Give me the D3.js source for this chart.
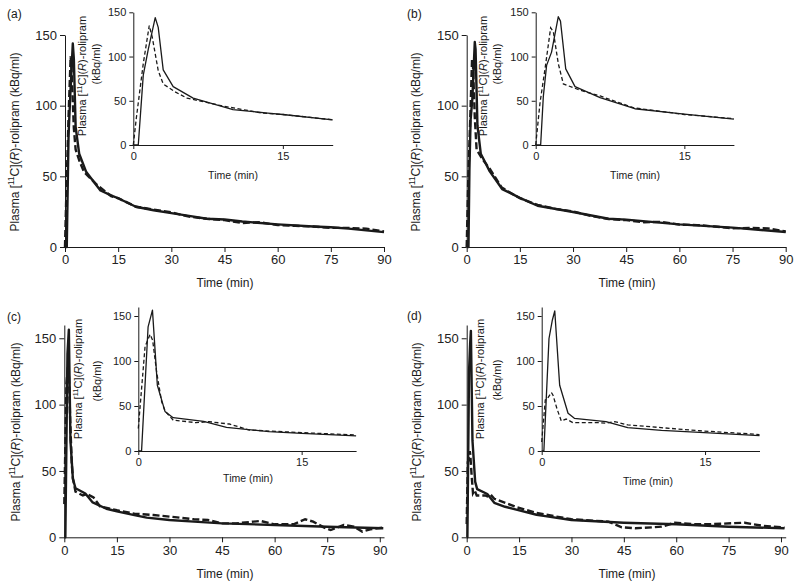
<!DOCTYPE html>
<html><head><meta charset="utf-8">
<script src="https://cdn.jsdelivr.net/npm/d3@7"></script>
<style>
body{margin:0;background:#fff}
svg{display:block;font-family:"Liberation Sans",Arial,Helvetica,sans-serif}
</style>
</head><body><svg id="chart" width="800" height="585"></svg>
<script>
// ---------- data ----------
const panelLabels = ["(a)", "(b)", "(c)", "(d)"];
const xTicksMain = [0, 15, 30, 45, 60, 75, 90];
const xTicksInset = [0, 15];
const yTicks = [0, 50, 100, 150];
const xTitle = "Time (min)";

// [time (min), plasma activity (kBq/ml)]
const solidA = [[0,0],[0.5,0],[1.0,79],[1.5,108],[2.2,144],[2.5,133],[3.0,85],[4.0,66],[6.0,53],[10,40],[13.5,36],[15,34.5],[20,28.5],[25,26],[30,24],[35,22],[40,20],[45,19.5],[50,18],[60,16],[70,14.5],[75,14],[80,13],[90,10.5]];
const dashedA = [[0,0],[0.3,30],[1.0,92],[1.6,135],[1.9,122],[2.5,84],[3.0,69],[4.2,60],[5.4,53],[9,44],[13,36],[15,34.5],[20,28.5],[25,26.5],[30,24.5],[35,21.5],[40,20],[45,19],[50,17],[55,17.5],[60,15.5],[65,15],[70,14.5],[75,13.5],[80,13.5],[85,13],[90,11]];
const solidB = [[0,0],[0.5,0],[0.77,55],[1.1,90],[1.6,105],[2.28,145],[2.5,140],[3.03,86],[3.97,66],[6.5,53.5],[10,41],[15,34.8],[20,29.2],[30,24.8],[40,20],[45,19.4],[60,16],[75,13.7],[90,10.6]];
const dashedB = [[0,0],[0.44,48],[0.94,86],[1.51,132.5],[1.78,128],[2.28,92],[2.79,69],[4.47,62],[6.5,55.4],[9.9,42],[15,34.5],[20,29.8],[25,27],[30,25.2],[35,22],[40,19.8],[45,19],[50,17.5],[55,17.8],[60,15.8],[65,15.5],[70,14.5],[75,13.2],[80,13.5],[85,13.2],[90,11]];
const solidC = [[0,0],[0.3,0],[0.9,138],[1.3,156.5],[1.75,73],[2.45,44],[3.2,37],[6,33],[8.1,26.3],[12,21.5],[15,19.6],[20,16.7],[23.5,14.8],[30,13],[37,11.8],[45,10.5],[60,9.3],[75,8],[91,6.8]];
const dashedC = [[0,25],[0.62,116],[1.08,129.6],[1.32,123],[1.68,88],[2.14,55],[2.46,44.4],[3.2,34.4],[5.3,31.5],[6.5,32.6],[8.35,30],[10.2,23.3],[15,20.4],[20,17.8],[25.4,16.8],[30,15.6],[37,13.6],[41,13],[45,10.5],[49,10.5],[54,11.8],[56,12.3],[60,9.8],[65.4,9.8],[68.7,13.6],[71,11.8],[74,7.5],[76,5.5],[79.7,9.3],[82.6,8],[85,4.3],[87.3,6],[91,7.3]];
const solidD = [[0,0],[0.2,0],[0.67,125],[0.98,145.6],[1.2,155.6],[1.65,73],[2.42,42],[3.0,36.3],[5.9,32.6],[7.9,26],[11,23],[14.5,20.7],[20,17],[22.5,16],[30,13],[45,11],[60,9.8],[75,8],[91,6.8]];
const dashedD = [[0,10],[0.33,56.7],[0.54,58.5],[0.89,65],[1.04,62],[1.4,47],[1.8,33.3],[2.25,35.5],[2.87,31.5],[5.3,31.5],[5.9,30.8],[6.7,32.6],[7.9,29],[14.5,22.5],[20,18.3],[30,13.6],[40.6,11.8],[44.4,7.5],[48.2,6.8],[53,7.5],[55.8,8],[59.6,11],[65.3,9.8],[71,10],[79.6,11],[84.4,8.8],[91,7.3]];

const solidSeries = [solidA, solidB, solidC, solidD];
const dashedSeries = [dashedA, dashedB, dashedC, dashedD];
const yMaxes = [150, 150, 160, 160];
const xMaxesMain = [90, 90, 91.2, 91.35];
const insetXMax = 20;

// ---------- layout ----------
const layout = [
  {main:{x:[65,384], y:[247,35]}, inset:{x:[133.3,332.7], y:[145,12.3]},
   label:[7,18], mYT:[19,142], iYT1:[86,76], iYT2:[100,64], iXT:[233,179], mXT:[225,286.5]},
  {main:{x:[466.7,785.7], y:[247,35]}, inset:{x:[535.7,733.9], y:[145,12.3]},
   label:[407,18], mYT:[420,142], iYT1:[487,76], iYT2:[501,64], iXT:[635,179], mXT:[627,286.5]},
  {main:{x:[64.3,384], y:[537.3,325]}, inset:{x:[138.3,356.1], y:[451,307]},
   label:[7,321], mYT:[20,432], iYT1:[82,379], iYT2:[101,381], iXT:[248,482], mXT:[225,577.5]},
  {main:{x:[466.7,785.7], y:[537.3,325]}, inset:{x:[541.7,759.5], y:[451,307]},
   label:[407,320], mYT:[421,432], iYT1:[484,379], iYT2:[501,380], iXT:[648,485], mXT:[627,577.5]}
];

const ink = "#1a1a1a";
const svg = d3.select("#chart");

function yTitle(g, x, y, size, withUnit) {
  const t = g.append("text")
    .attr("transform", `translate(${x},${y}) rotate(-90)`)
    .attr("text-anchor", "middle")
    .attr("font-size", size).attr("fill", ink);
  t.append("tspan").text("Plasma [");
  t.append("tspan").attr("font-size", size*0.68).attr("dy", -size*0.38).text("11");
  t.append("tspan").attr("dy", size*0.38).text("C](");
  t.append("tspan").attr("font-style", "italic").text("R");
  t.append("tspan").text(")-rolipram" + (withUnit ? " (kBq/ml)" : ""));
}

function drawAxes(g, xs, ys, xt, yt, fs, tick) {
  const gx = g.append("g").attr("transform", `translate(0,${ys.range()[0]})`)
    .call(d3.axisBottom(xs).tickValues(xt).tickSize(tick).tickSizeOuter(0).tickPadding(3).tickFormat(d3.format("d")));
  const gy = g.append("g").attr("transform", `translate(${xs.range()[0]},0)`)
    .call(d3.axisLeft(ys).tickValues(yt).tickSize(tick).tickSizeOuter(0).tickPadding(3).tickFormat(d3.format("d")));
  [gx, gy].forEach(a => {
    a.select(".domain").attr("stroke", ink).attr("stroke-width", 1);
    a.selectAll(".tick line").attr("stroke", ink).attr("stroke-width", 1);
    a.selectAll(".tick text").attr("font-size", fs).attr("fill", "#222")
      .attr("font-family", '"Liberation Sans",Arial,sans-serif');
  });
}

layout.forEach((L, i) => {
  const g = svg.append("g");
  // main chart
  const x = d3.scaleLinear().domain([0, xMaxesMain[i]]).range(L.main.x);
  const y = d3.scaleLinear().domain([0, yMaxes[i]]).range(L.main.y);
  drawAxes(g, x, y, xTicksMain, yTicks, 13, 5);
  const line = d3.line().x(d => x(d[0])).y(d => y(d[1]));
  g.append("path").datum(solidSeries[i]).attr("d", line)
    .attr("fill", "none").attr("stroke", ink).attr("stroke-width", 2.4).attr("stroke-linejoin", "round");
  g.append("path").datum(dashedSeries[i]).attr("d", line)
    .attr("fill", "none").attr("stroke", ink).attr("stroke-width", 2.4).attr("stroke-dasharray", "7,3");

  // inset
  const xi = d3.scaleLinear().domain([0, insetXMax]).range(L.inset.x);
  const yi = d3.scaleLinear().domain([0, yMaxes[i]]).range(L.inset.y);
  drawAxes(g, xi, yi, xTicksInset, yTicks, 11, 4);
  const li = d3.line().x(d => xi(d[0])).y(d => yi(d[1]));
  g.append("path").datum(solidSeries[i].filter(d => d[0] <= insetXMax)).attr("d", li)
    .attr("fill", "none").attr("stroke", ink).attr("stroke-width", 1.3).attr("stroke-linejoin", "round");
  g.append("path").datum(dashedSeries[i].filter(d => d[0] <= insetXMax)).attr("d", li)
    .attr("fill", "none").attr("stroke", ink).attr("stroke-width", 1.3).attr("stroke-dasharray", "4,2.5");

  // texts
  g.append("text").attr("x", L.label[0]).attr("y", L.label[1]).attr("font-size", 12).attr("fill", ink).text(panelLabels[i]);
  yTitle(g, L.mYT[0], L.mYT[1], 12, true);
  yTitle(g, L.iYT1[0], L.iYT1[1], 11, false);
  g.append("text").attr("transform", `translate(${L.iYT2[0]},${L.iYT2[1]}) rotate(-90)`)
    .attr("text-anchor", "middle").attr("font-size", 11).attr("fill", ink).text("(kBq/ml)");
  g.append("text").attr("x", L.iXT[0]).attr("y", L.iXT[1]).attr("text-anchor", "middle")
    .attr("font-size", 10.5).attr("fill", ink).text(xTitle);
  g.append("text").attr("x", L.mXT[0]).attr("y", L.mXT[1]).attr("text-anchor", "middle")
    .attr("font-size", 12).attr("fill", ink).text(xTitle);
});
</script>
</body></html>
